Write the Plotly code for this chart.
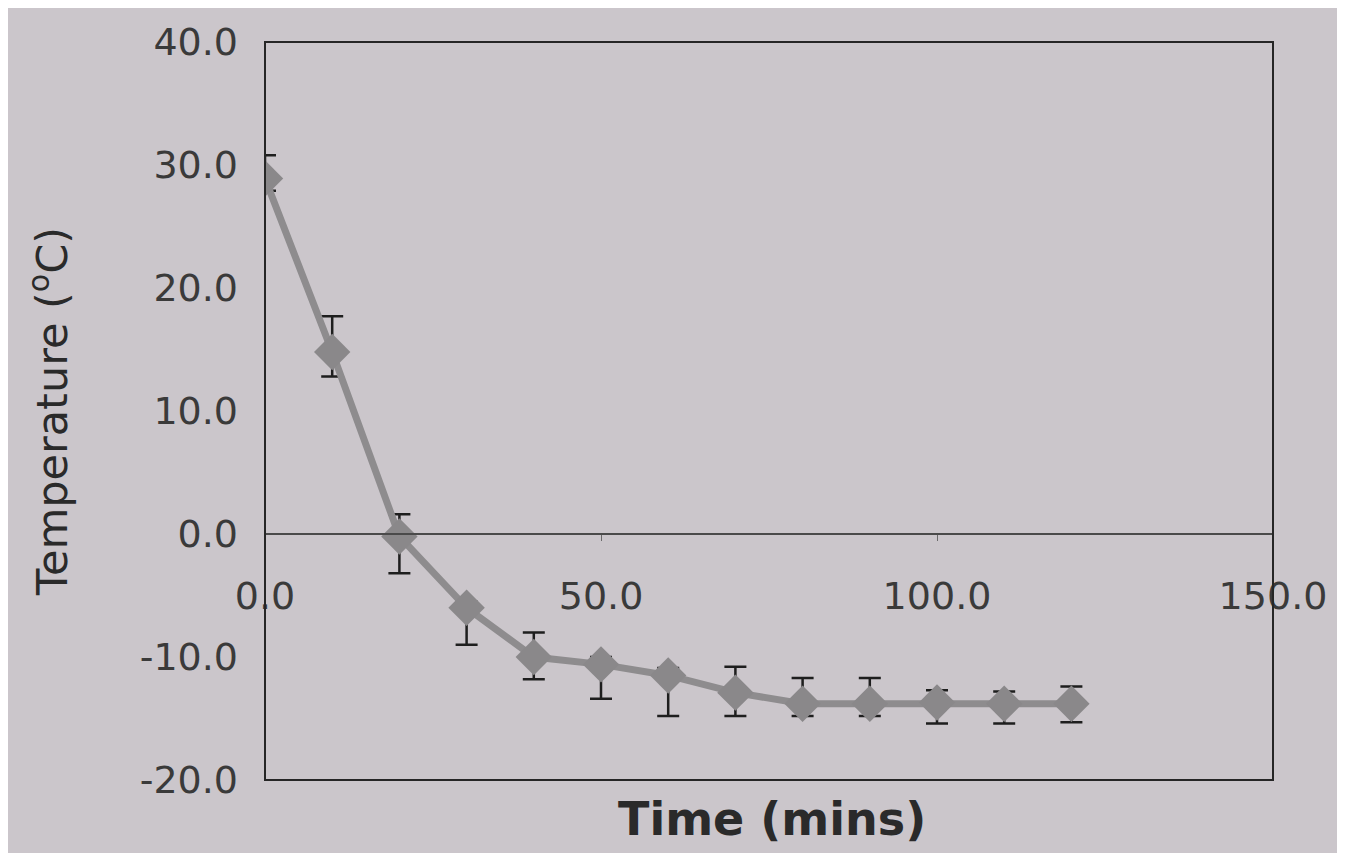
import plotly.graph_objects as go

# Data
time_mins = [0, 10, 20, 30, 40, 50, 60, 70, 80, 90, 100, 110, 120]
temperature = [28.9, 14.8, -0.2, -6.0, -10.0, -10.6, -11.5, -12.9, -13.8, -13.8, -13.7, -13.8, -13.8]
err_plus = [1.9, 2.9, 1.8, 0.5, 2.0, 0.6, 0.6, 2.1, 2.1, 2.1, 1.0, 1.0, 1.4]
err_minus = [1.0, 2.0, 3.0, 3.0, 1.8, 2.8, 3.3, 1.9, 1.0, 1.0, 1.7, 1.6, 1.5]

x_ticks = [0, 50, 100, 150]
x_tick_labels = ["0.0", "50.0", "100.0", "150.0"]
y_ticks = [-20, -10, 0, 10, 20, 30, 40]
y_tick_labels = ["-20.0", "-10.0", "0.0", "10.0", "20.0", "30.0", "40.0"]

bg = "#cbc6cb"
ink = "#2a2a2a"

fig = go.Figure()
fig.add_trace(go.Scatter(
    x=time_mins, y=temperature,
    mode="lines+markers",
    line=dict(color="#8e8c8e", width=7),
    marker=dict(symbol="diamond", size=28, color="#8a888a", line=dict(width=0)),
    error_y=dict(type="data", symmetric=False, array=err_plus, arrayminus=err_minus,
                 color="#1e1e1e", thickness=2.5, width=11),
    showlegend=False,
))

fig.update_layout(
    width=1345, height=853,
    paper_bgcolor=bg, plot_bgcolor=bg,
    margin=dict(l=257, r=80, t=30, b=81),
    font=dict(family="DejaVu Sans", color=ink),
    xaxis=dict(
        range=[0, 150], tickvals=x_ticks, ticktext=x_tick_labels,
        anchor="free", position=1/3,
        showline=True, linecolor="#4a4a4a", linewidth=2,
        ticks="outside", ticklen=6, tickcolor="#6a6a6a",
        showgrid=False, zeroline=False,
        tickfont=dict(size=38, color="#3a3a3a"),
        ticklabelstandoff=22,
    ),
    yaxis=dict(
        range=[-20, 40], tickvals=y_ticks, ticktext=y_tick_labels,
        showgrid=False, zeroline=False, ticks="",
        tickfont=dict(size=38, color="#3a3a3a"),
        ticklabelstandoff=26,
        title=dict(text="Temperature (<sup>o</sup>C)", font=dict(size=43, color=ink), standoff=58),
    ),
    shapes=[dict(type="rect", xref="x domain", yref="y domain", x0=0, x1=1, y0=0, y1=1,
                 line=dict(color="#262626", width=2), layer="above")],
    annotations=[dict(text="<b>Time (mins)</b>", xref="paper", yref="paper",
                      x=0.503, y=-0.013, yanchor="top", showarrow=False,
                      font=dict(size=46, color=ink))],
)

fig.write_html("out.html")
